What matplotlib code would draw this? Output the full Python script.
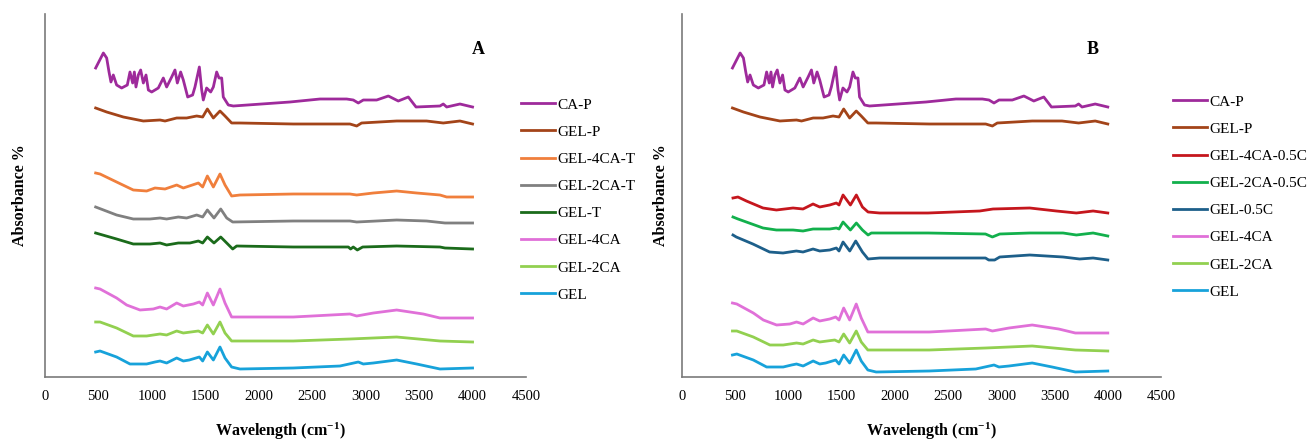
import matplotlib
matplotlib.use("Agg")
import matplotlib.pyplot as plt

plt.rcParams["font.family"] = ["Liberation Serif", "DejaVu Serif"]
plt.rcParams["mathtext.fontset"] = "custom"
plt.rcParams["mathtext.rm"] = "Liberation Serif"
plt.rcParams["mathtext.bf"] = "Liberation Serif:bold"
plt.rcParams["mathtext.default"] = "regular"

# ---------------------------------------------------------------
# FTIR spectra (stacked, arbitrary absorbance units incl. offset)
# ---------------------------------------------------------------
CAP_WN = [474, 546, 577, 599, 617, 639, 670, 717, 770, 795, 820, 836, 851, 873,
          895, 920, 945, 967, 998, 1060, 1107, 1138, 1185, 1216, 1238, 1269,
          1294, 1335, 1381, 1403, 1444, 1466, 1481, 1512, 1550, 1575, 1606,
          1628, 1653, 1668, 1715, 1762, 2292, 2573, 2822, 2884, 2931, 2978,
          3103, 3212, 3305, 3399, 3471, 3695, 3726, 3758, 3882, 4000]
CAP_ABS = [3.08, 3.23, 3.18, 3.04, 2.94, 3.01, 2.91, 2.88, 2.91, 3.04, 2.93, 3.04,
           2.89, 3.01, 3.06, 2.93, 3.01, 2.86, 2.84, 2.88, 2.98, 2.89, 2.99,
           3.06, 2.93, 3.04, 2.96, 2.79, 2.81, 2.89, 3.09, 2.86, 2.76, 2.88,
           2.84, 2.89, 3.04, 2.98, 2.98, 2.79, 2.71, 2.70, 2.74, 2.77, 2.77,
           2.76, 2.73, 2.76, 2.76, 2.80, 2.75, 2.79, 2.69, 2.70, 2.72, 2.69,
           2.72, 2.69]

GELP_WN = [474, 577, 733, 920, 1076, 1123, 1232, 1325, 1419, 1475, 1519, 1575,
           1637, 1684, 1746, 1824, 2323, 2853, 2916, 2962, 3290, 3570, 3726,
           3882, 4000]
GELP_ABS = [2.68, 2.64, 2.59, 2.55, 2.56, 2.55, 2.58, 2.58, 2.60, 2.59, 2.67,
            2.58, 2.65, 2.60, 2.53, 2.53, 2.52, 2.52, 2.50, 2.53, 2.55, 2.55,
            2.53, 2.55, 2.52]

GEL4CAT_WN = [474, 515, 670, 826, 951, 1029, 1123, 1232, 1294, 1350, 1435, 1475,
              1519, 1575, 1637, 1684, 1746, 1824, 2323, 2853, 2916, 3072, 3290,
              3477, 3695, 3758, 4000]
GEL4CAT_ABS = [2.03, 2.02, 1.94, 1.86, 1.85, 1.88, 1.87, 1.91, 1.88, 1.90, 1.93,
               1.89, 2.00, 1.89, 2.02, 1.91, 1.80, 1.81, 1.82, 1.82, 1.81, 1.83,
               1.85, 1.83, 1.81, 1.79, 1.79]

GEL2CAT_WN = [474, 670, 826, 982, 1076, 1138, 1247, 1325, 1419, 1475, 1519, 1581,
              1644, 1700, 1756, 2323, 2853, 2916, 3290, 3570, 3742, 4000]
GEL2CAT_ABS = [1.69, 1.61, 1.57, 1.57, 1.58, 1.57, 1.59, 1.58, 1.61, 1.59, 1.66,
               1.58, 1.67, 1.58, 1.54, 1.55, 1.55, 1.54, 1.56, 1.55, 1.53, 1.53]

GELT_WN = [474, 670, 826, 982, 1076, 1138, 1247, 1356, 1435, 1475, 1519, 1581,
           1644, 1700, 1756, 1793, 2323, 2838, 2859, 2884, 2922, 2972, 3290,
           3695, 3742, 4000]
GELT_ABS = [1.43, 1.37, 1.32, 1.32, 1.33, 1.31, 1.33, 1.33, 1.35, 1.33, 1.39,
            1.33, 1.39, 1.33, 1.27, 1.30, 1.29, 1.29, 1.27, 1.29, 1.26, 1.29,
            1.30, 1.29, 1.28, 1.27]

GEL4CA_WN = [474, 515, 670, 764, 889, 1013, 1076, 1138, 1232, 1294, 1388, 1444,
             1475, 1519, 1575, 1637, 1684, 1746, 1824, 2323, 2853, 2916, 3072,
             3290, 3539, 3695, 4000]
GEL4CA_ABS = [0.88, 0.87, 0.78, 0.71, 0.66, 0.67, 0.69, 0.67, 0.73, 0.70, 0.72,
              0.74, 0.71, 0.83, 0.71, 0.87, 0.73, 0.59, 0.59, 0.59, 0.62, 0.60,
              0.63, 0.66, 0.62, 0.58, 0.58]

GEL2CA_WN = [474, 515, 670, 826, 951, 1076, 1138, 1232, 1294, 1435, 1475, 1519,
             1575, 1637, 1684, 1746, 2323, 2853, 3290, 3695, 4000]
GEL2CA_ABS = [0.54, 0.54, 0.48, 0.40, 0.40, 0.42, 0.41, 0.45, 0.43, 0.45, 0.43,
              0.51, 0.42, 0.54, 0.43, 0.35, 0.35, 0.37, 0.39, 0.35, 0.34]

GEL_WN = [474, 515, 670, 795, 951, 1029, 1076, 1138, 1232, 1294, 1350, 1444,
          1475, 1519, 1575, 1637, 1684, 1746, 1824, 2323, 2760, 2931, 2978,
          3072, 3290, 3477, 3695, 4000]
GEL_ABS = [0.24, 0.25, 0.19, 0.12, 0.12, 0.14, 0.15, 0.13, 0.18, 0.15, 0.16,
           0.19, 0.15, 0.24, 0.16, 0.29, 0.18, 0.09, 0.07, 0.08, 0.10, 0.14,
           0.12, 0.13, 0.16, 0.12, 0.07, 0.08]

GEL4CA05C_WN = [479, 526, 605, 761, 887, 1043, 1137, 1231, 1294, 1388, 1450, 1475,
                1513, 1582, 1638, 1695, 1748, 1857, 2311, 2797, 2922, 3267, 3517,
                3705, 3862, 4000]
GEL4CA05C_ABS = [1.78, 1.79, 1.75, 1.68, 1.66, 1.68, 1.67, 1.72, 1.69, 1.71, 1.73,
                 1.71, 1.81, 1.71, 1.81, 1.69, 1.64, 1.63, 1.63, 1.65, 1.67, 1.68,
                 1.65, 1.63, 1.65, 1.63]

GEL2CA05C_WN = [479, 526, 761, 887, 1043, 1137, 1231, 1388, 1450, 1475, 1513, 1582,
                1638, 1695, 1748, 1779, 2311, 2851, 2916, 2985, 3267, 3580, 3705,
                3862, 4000]
GEL2CA05C_ABS = [1.59, 1.57, 1.48, 1.46, 1.46, 1.45, 1.47, 1.47, 1.48, 1.47, 1.54,
                 1.46, 1.53, 1.46, 1.41, 1.43, 1.43, 1.42, 1.39, 1.42, 1.43, 1.43,
                 1.41, 1.43, 1.40]

GEL05C_WN = [479, 510, 666, 823, 949, 1074, 1137, 1231, 1294, 1388, 1450, 1475,
             1513, 1576, 1632, 1695, 1748, 1857, 2311, 2851, 2882, 2937, 2985,
             3267, 3580, 3736, 3862, 4000]
GEL05C_ABS = [1.41, 1.39, 1.32, 1.24, 1.23, 1.25, 1.24, 1.27, 1.25, 1.26, 1.28,
              1.25, 1.34, 1.25, 1.35, 1.24, 1.17, 1.18, 1.18, 1.18, 1.16, 1.16,
              1.19, 1.21, 1.19, 1.17, 1.18, 1.16]

# extra vertical shift of the shared spectra in panel B
SHIFT_B_GEL4CA = -0.15
SHIFT_B_GEL2CA = -0.09
SHIFT_B_GEL = -0.03

COLORS = {
    "CA-P": "#9E2A9B",
    "GEL-P": "#A34419",
    "GEL-4CA-T": "#F07F3C",
    "GEL-2CA-T": "#808080",
    "GEL-T": "#1B6B1B",
    "GEL-4CA": "#E070D8",
    "GEL-2CA": "#92D050",
    "GEL": "#17A2DA",
    "GEL-4CA-0.5C": "#C5161D",
    "GEL-2CA-0.5C": "#12B04C",
    "GEL-0.5C": "#1D5F8A",
}

panel_a = [
    ("CA-P", CAP_WN, CAP_ABS, 0.0),
    ("GEL-P", GELP_WN, GELP_ABS, 0.0),
    ("GEL-4CA-T", GEL4CAT_WN, GEL4CAT_ABS, 0.0),
    ("GEL-2CA-T", GEL2CAT_WN, GEL2CAT_ABS, 0.0),
    ("GEL-T", GELT_WN, GELT_ABS, 0.0),
    ("GEL-4CA", GEL4CA_WN, GEL4CA_ABS, 0.0),
    ("GEL-2CA", GEL2CA_WN, GEL2CA_ABS, 0.0),
    ("GEL", GEL_WN, GEL_ABS, 0.0),
]
panel_b = [
    ("CA-P", CAP_WN, CAP_ABS, 0.0),
    ("GEL-P", GELP_WN, GELP_ABS, 0.0),
    ("GEL-4CA-0.5C", GEL4CA05C_WN, GEL4CA05C_ABS, 0.0),
    ("GEL-2CA-0.5C", GEL2CA05C_WN, GEL2CA05C_ABS, 0.0),
    ("GEL-0.5C", GEL05C_WN, GEL05C_ABS, 0.0),
    ("GEL-4CA", GEL4CA_WN, GEL4CA_ABS, SHIFT_B_GEL4CA),
    ("GEL-2CA", GEL2CA_WN, GEL2CA_ABS, SHIFT_B_GEL2CA),
    ("GEL", GEL_WN, GEL_ABS, SHIFT_B_GEL),
]

W, H = 1309, 442
fig = plt.figure(figsize=(W / 100, H / 100), dpi=100)
axA = fig.add_axes([45 / W, 1 - 377 / H, 481 / W, 363 / H])
axB = fig.add_axes([682 / W, 1 - 377 / H, 479 / W, 363 / H])


def draw_panel(ax, series, letter, letter_x, leg_x, leg_y, xlab_x, ylab_x):
    for name, wn, ab, shift in series:
        ax.plot(wn, [a + shift for a in ab], color=COLORS[name], lw=2.0,
                solid_joinstyle="round", label=name)
    ax.set_xlim(0, 4500)
    ax.set_ylim(-0.01, 3.62)
    ax.set_xticks(range(0, 4501, 500))
    ax.set_yticks([])
    ax.tick_params(axis="x", length=0, pad=9, labelsize=10.5)
    for side in ("top", "right"):
        ax.spines[side].set_visible(False)
    for side in ("left", "bottom"):
        ax.spines[side].set_color("#7a7a7a")
        ax.spines[side].set_linewidth(1.2)
    ax.set_xlabel("Wavelength (cm$^{-1}$)", fontsize=11.5, fontweight="bold")
    ax.xaxis.set_label_coords(xlab_x, -0.12)
    ax.set_ylabel("Absorbance %", fontsize=11.5, fontweight="bold")
    ax.yaxis.set_label_coords(ylab_x, 0.5)
    ax.text(letter_x, 3.27, letter, fontsize=13, fontweight="bold",
            ha="center", va="center")
    fig.legend(loc="upper left", bbox_to_anchor=(leg_x, leg_y),
               handles=ax.get_lines(), frameon=False, fontsize=11,
               handlelength=2.2, handletextpad=0.15, labelspacing=0.88,
               borderpad=0, borderaxespad=0)


draw_panel(axA, panel_a, "A", 4050, 521 / W, 1 - 98 / H, 0.49, -0.035)
draw_panel(axB, panel_b, "B", 3860, 1173 / W, 1 - 95 / H, 0.52, -0.027)

fig.savefig("out.png", dpi=100)
